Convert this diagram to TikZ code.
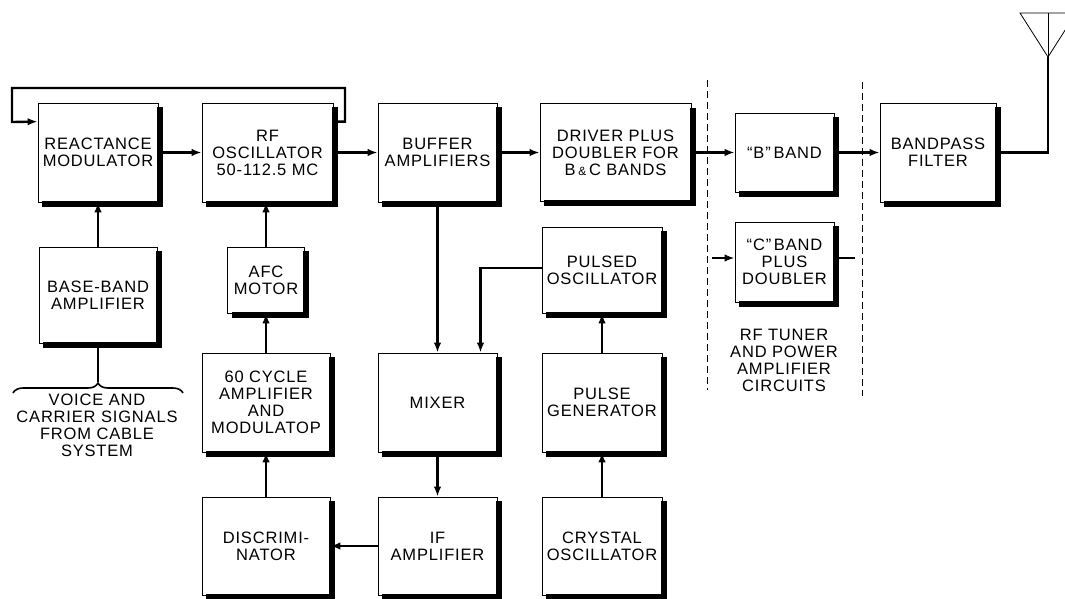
\documentclass[tikz,border=0pt]{standalone}
\usepackage{fontspec}
\setmainfont[LetterSpace=5]{Liberation Sans}
\usetikzlibrary{arrows.meta,decorations.pathreplacing,calc}
\newcommand\boxfnt{\fontsize{16.5}{17}\selectfont}
% #1 name, #2 x, #3 y (downward), #4 width, #5 height, #6 text
\newcommand\blk[6]{%
  \node[box, minimum width=#4pt, minimum height=#5pt] (#1) at (#2,-#3) {#6};
  \fill[boxshade] ($(#1.north east)+(-1.6,-4.5)$) rectangle ($(#1.south east)+(4.5,-4.5)$);
  \fill[boxshade] ($(#1.south west)+(4.5,-4.5)$) rectangle ($(#1.south east)+(4.5,1.6)$);}
\begin{document}
\begin{tikzpicture}[x=1pt,y=1pt,
  box/.style={draw=black, line width=0.8pt, fill=white, align=center, inner sep=0pt, font=\boxfnt},
  boxshade/.style={fill=black},
  lbl/.style={align=center, inner sep=0pt, font=\boxfnt},
  conn/.style={line width=2.4pt},
  arr/.style={conn, -{Latex[length=10pt,width=7.5pt]}},
  divider/.style={line width=0.9pt, dash pattern=on 7pt off 4pt},
  thinline/.style={line width=0.8pt}]
\fill[white] (0,-598) rectangle (1065,0);
\useasboundingbox (0,-598) rectangle (1065,0);

% top row
\blk{react}{98}{152.5}{120}{99}{REACTANCE\\MODULATOR}
\blk{rfosc}{267.5}{152.5}{131}{99}{RF\\OSCILLATOR\\50-112.5 MC}
\blk{buffer}{437.5}{152.5}{119}{99}{BUFFER\\AMPLIFIERS}
\blk{driver}{615.5}{152.5}{151}{98}{DRIVER PLUS\\DOUBLER FOR\\B\,{\fontsize{12}{12}\selectfont\&}\,C BANDS}
\blk{bband}{784.5}{152.5}{99}{79}{``B''\,BAND}
\blk{cband}{784.5}{262}{99}{80}{``C''\,BAND\\PLUS\\DOUBLER}
\blk{bpf}{938}{152.5}{116}{99}{BANDPASS\\FILTER}

% left column
\blk{baseband}{98}{295}{118}{96}{BASE-BAND\\AMPLIFIER}
\blk{afc}{266}{280}{77}{66}{AFC\\MOTOR}
\blk{cyc}{266}{402.5}{128}{99}{60 CYCLE\\AMPLIFIER\\AND\\MODULATOP}
\blk{discrim}{266}{546}{128}{98}{DISCRIMI-\\NATOR}

% middle columns
\blk{mixer}{437.5}{402.5}{119}{99}{MIXER}
\blk{ifamp}{437.5}{546}{119}{98}{IF\\AMPLIFIER}
\blk{pulsed}{602}{270}{120}{86}{PULSED\\OSCILLATOR}
\blk{pulsegen}{602}{402.5}{120}{99}{PULSE\\GENERATOR}
\blk{crystal}{602}{546}{120}{98}{CRYSTAL\\OSCILLATOR}

% labels
\node[lbl] (cable) at (97,-425.5) {VOICE AND\\CARRIER SIGNALS\\FROM CABLE\\SYSTEM};
\node[lbl] (tuner) at (784,-360) {RF TUNER\\AND POWER\\AMPLIFIER\\CIRCUITS};

% main chain
\draw[arr] (react.east) -- (rfosc.west);
\draw[arr] (rfosc.east) -- (buffer.west);
\draw[arr] (buffer.east) -- (driver.west);
\draw[arr] (driver.east) -- (bband.west);
\draw[arr] (bband.east) -- (bpf.west);

% feedback loop
\draw[arr] ([yshift=-19pt]rfosc.north east) -| (345,-88) -| (12,-122) -- ([yshift=-19pt]react.north west);

% vertical links
\draw[arr] (baseband.north) -- (react.south);
\draw[arr] (afc.north) -- (afc.north |- rfosc.south);
\draw[arr] (cyc.north) -- (afc.south);
\draw[arr] (discrim.north) -- (cyc.south);
\draw[arr] (ifamp.west) -- (discrim.east);
\draw[arr] (buffer.south) -- (mixer.north);
\draw[arr] (mixer.south) -- (ifamp.north);
\draw[arr] ([yshift=2pt]pulsed.west) -| ([xshift=43pt]mixer.north);
\draw[arr] (pulsegen.north) -- (pulsed.south);
\draw[arr] (crystal.north) -- (pulsegen.south);

% C band stubs
\coordinate (cin) at (712,-258);
\coordinate (cout) at (855,-258);
\draw[arr] (cin) -- (cin -| cband.west);
\draw[conn] (cout -| cband.east) -- (cout);

% brace
\coordinate (tip) at (98,-382);
\draw[conn] (baseband.south) -- (tip);
\draw[line width=1.6pt, decorate, decoration={brace, amplitude=10pt}] (13,-393) -- (183,-393);

% dividers
\draw[divider] (707,-80) -- (707,-390);
\draw[divider] (862,-82) -- (862,-396);

% antenna
\coordinate (apex) at (1048,-57);
\draw[conn] (bpf.east) -| (apex);
\begin{scope}
\clip (0,-598) rectangle (1065,0);
\draw[thinline] (1020,-13) -- (1076,-13) -- (apex) -- cycle;
\draw[thinline] (1048,-13) -- (apex);
\end{scope}
\end{tikzpicture}
\end{document}
